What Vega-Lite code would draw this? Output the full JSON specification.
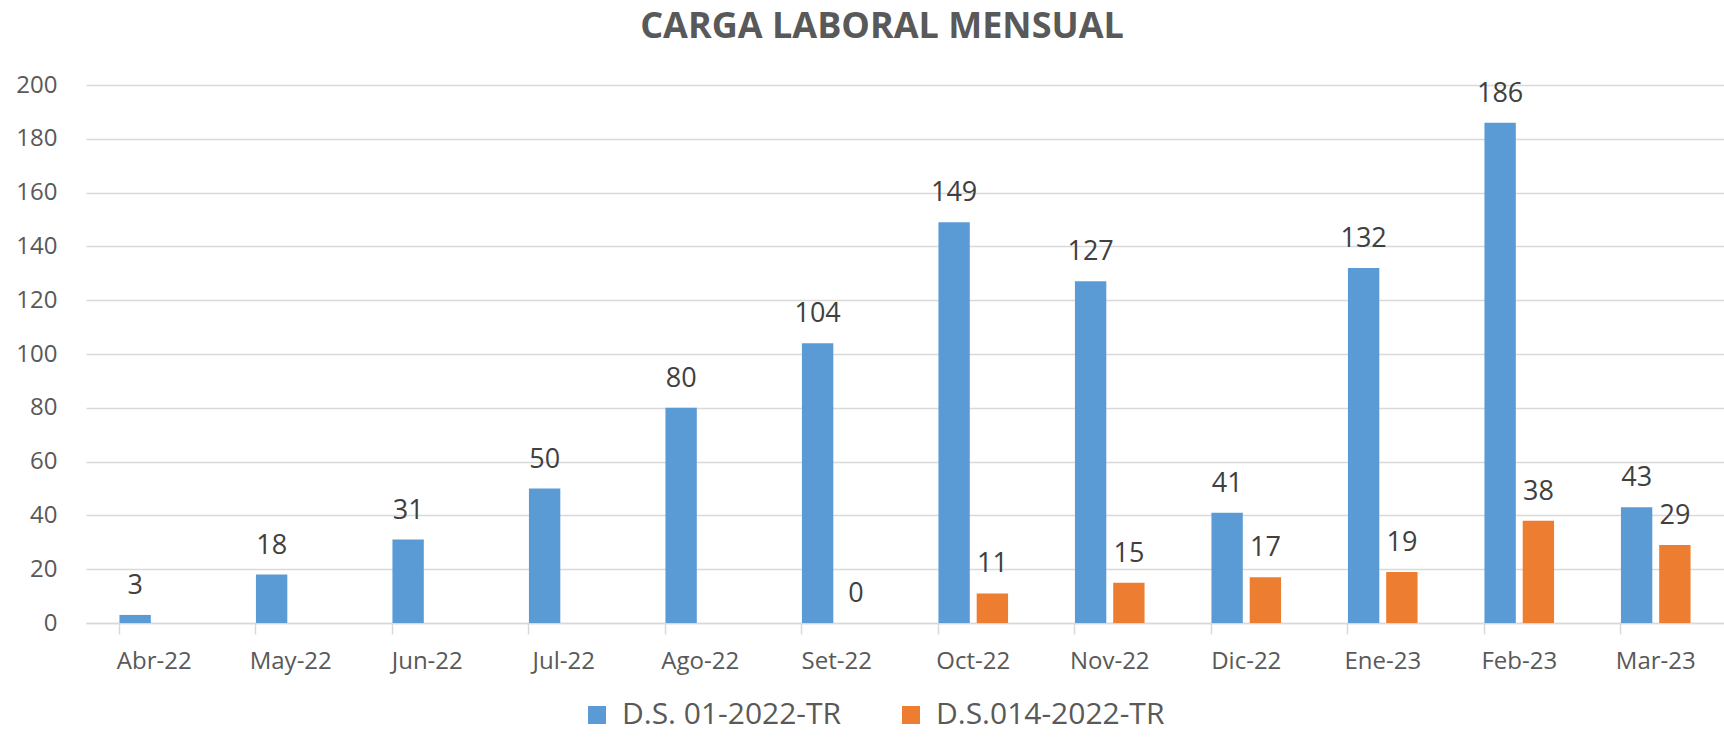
{
  "$schema": "https://vega.github.io/schema/vega-lite/v6.json",
  "width": 1638,
  "height": 538,
  "autosize": {"type": "none"},
  "padding": {"left": 86, "top": 85, "right": 0, "bottom": 116},
  "background": "white",
  "config": {"view": {"stroke": null}},
  "title": {"text": "CARGA LABORAL MENSUAL", "font": "Open Sans", "fontSize": 36, "fontWeight": "bold", "color": "#595959", "anchor": "middle", "dx": -23, "offset": 27},
  "data": {"values": [
    {"mes": "Abr-22", "serie": "D.S. 01-2022-TR", "valor": 3},
    {"mes": "May-22", "serie": "D.S. 01-2022-TR", "valor": 18},
    {"mes": "Jun-22", "serie": "D.S. 01-2022-TR", "valor": 31},
    {"mes": "Jul-22", "serie": "D.S. 01-2022-TR", "valor": 50},
    {"mes": "Ago-22", "serie": "D.S. 01-2022-TR", "valor": 80},
    {"mes": "Set-22", "serie": "D.S. 01-2022-TR", "valor": 104},
    {"mes": "Set-22", "serie": "D.S.014-2022-TR", "valor": 0},
    {"mes": "Oct-22", "serie": "D.S. 01-2022-TR", "valor": 149},
    {"mes": "Oct-22", "serie": "D.S.014-2022-TR", "valor": 11},
    {"mes": "Nov-22", "serie": "D.S. 01-2022-TR", "valor": 127},
    {"mes": "Nov-22", "serie": "D.S.014-2022-TR", "valor": 15},
    {"mes": "Dic-22", "serie": "D.S. 01-2022-TR", "valor": 41},
    {"mes": "Dic-22", "serie": "D.S.014-2022-TR", "valor": 17},
    {"mes": "Ene-23", "serie": "D.S. 01-2022-TR", "valor": 132},
    {"mes": "Ene-23", "serie": "D.S.014-2022-TR", "valor": 19},
    {"mes": "Feb-23", "serie": "D.S. 01-2022-TR", "valor": 186},
    {"mes": "Feb-23", "serie": "D.S.014-2022-TR", "valor": 38},
    {"mes": "Mar-23", "serie": "D.S. 01-2022-TR", "valor": 43},
    {"mes": "Mar-23", "serie": "D.S.014-2022-TR", "valor": 29}
  ]},
  "encoding": {
    "x": {
      "field": "mes", "type": "nominal",
      "sort": ["Abr-22", "May-22", "Jun-22", "Jul-22", "Ago-22", "Set-22", "Oct-22", "Nov-22", "Dic-22", "Ene-23", "Feb-23", "Mar-23"],
      "scale": {"paddingInner": 0.49, "paddingOuter": 0.245},
      "axis": {"title": null, "bandPosition": 0, "ticks": true, "tickSize": 11, "tickColor": "#D9D9D9", "tickWidth": 1.5, "domain": true, "domainColor": "#D9D9D9", "domainWidth": 1.5, "labelPadding": 15, "labelFont": "Open Sans", "labelFontSize": 24, "labelColor": "#595959", "labelAngle": 0, "grid": false}
    },
    "xOffset": {"field": "serie", "type": "nominal", "sort": ["D.S. 01-2022-TR", "D.S.014-2022-TR"], "scale": {"paddingInner": 0.18, "paddingOuter": 0}},
    "y": {
      "field": "valor", "type": "quantitative",
      "scale": {"domain": [0, 200], "nice": false},
      "axis": {"title": null, "values": [0, 20, 40, 60, 80, 100, 120, 140, 160, 180, 200], "grid": true, "gridColor": "#D9D9D9", "gridWidth": 1.5, "domain": false, "ticks": false, "tickSize": 0, "labelPadding": 29, "labelFont": "Open Sans", "labelFontSize": 24, "labelColor": "#595959"}
    }
  },
  "layer": [
    {
      "mark": {"type": "bar"},
      "encoding": {
        "color": {
          "field": "serie", "type": "nominal",
          "scale": {"domain": ["D.S. 01-2022-TR", "D.S.014-2022-TR"], "range": ["#5B9BD5", "#ED7D31"]},
          "legend": {"title": null, "orient": "none", "legendX": 496, "legendY": 615, "direction": "horizontal", "symbolType": "square", "symbolSize": 324, "symbolStrokeWidth": 0, "labelFont": "Open Sans", "labelFontSize": 30, "labelColor": "#595959", "labelOffset": 10, "labelLimit": 0, "columnPadding": 54}
        }
      }
    },
    {
      "mark": {"type": "text", "dy": -21, "baseline": "alphabetic", "font": "Open Sans", "fontSize": 27, "color": "#404040"},
      "encoding": {"text": {"field": "valor", "type": "quantitative"}}
    }
  ]
}
